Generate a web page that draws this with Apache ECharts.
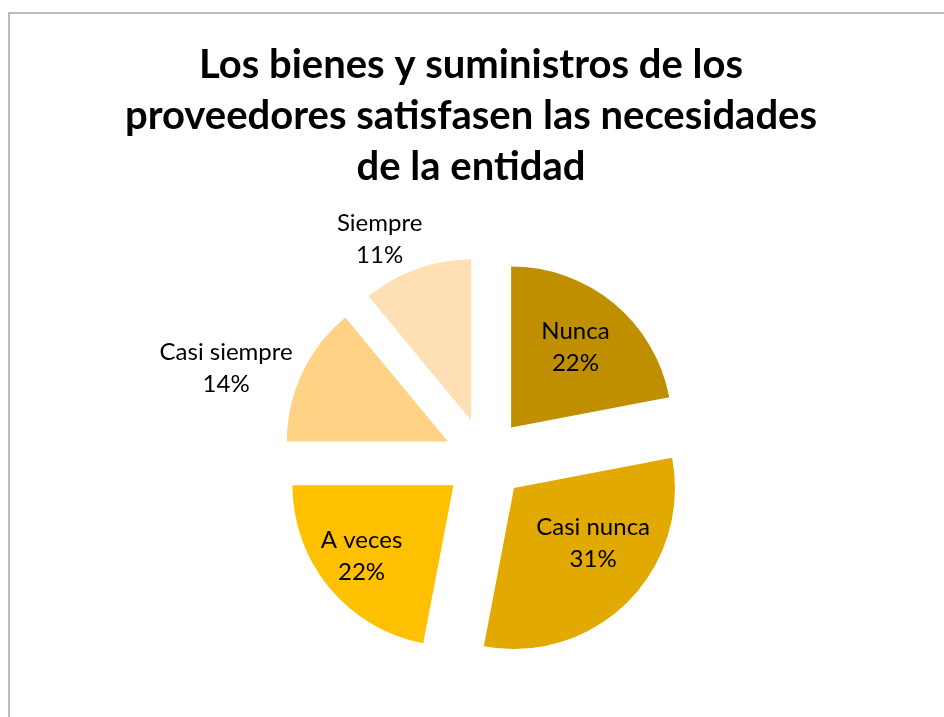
<!DOCTYPE html>
<html>
<head>
<meta charset="utf-8">
<script src="https://cdn.jsdelivr.net/npm/echarts@6/dist/echarts.min.js"></script>
<style>
  html, body { margin: 0; padding: 0; background: #fff; }
  #chart { width: 944px; height: 717px; }
</style>
</head>
<body>
<div id="chart"></div>
<script>
const TITLE = "Los bienes y suministros de los\nproveedores satisfasen las necesidades\nde la entidad";
const categories = ["Nunca", "Casi nunca", "A veces", "Casi siempre", "Siempre"];
const percents = [22, 31, 22, 14, 11];
const colors = ["#bf8f00", "#e2aa00", "#ffc000", "#ffd285", "#ffe0b4"];

// label placement: distance as share of radius, turn from slice bisector (deg)
const labelDist = [0.64, 0.60, 0.72, 1.45, 1.26];
const labelTurn = [-1, -10, 2, -7, -7];

const CENTER = [485, 459];
const RADIUS = 161;
const EXPLODE = 41;
const FONT = "Lato";

document.addEventListener("DOMContentLoaded", () => {
  const chart = echarts.init(document.getElementById("chart"));
  const total = percents.reduce((a, b) => a + b, 0);
  const mids = [];
  let acc = 0;
  percents.forEach(v => {
    mids.push((acc + v / 2) / total * 360);
    acc += v;
  });

  // the pie's own labels ignore labelLayout here, so labels go in as graphic text
  function labelPos(i) {
    const m = mids[i] * Math.PI / 180;
    const cx = CENTER[0] + Math.sin(m) * EXPLODE;
    const cy = CENTER[1] - Math.cos(m) * EXPLODE;
    const a = (mids[i] + labelTurn[i]) * Math.PI / 180;
    const r = RADIUS * labelDist[i];
    return [cx + Math.sin(a) * r, cy - Math.cos(a) * r];
  }

  const labels = categories.map((name, i) => {
    const [x, y] = labelPos(i);
    return {
      type: "text",
      x, y,
      silent: true,
      z: 10,
      style: {
        text: name + "\n" + percents[i] + "%",
        font: "24px " + FONT,
        lineHeight: 32,
        fill: "#000",
        align: "center",
        verticalAlign: "middle",
      },
    };
  });

  chart.setOption({
    animation: false,
    title: {
      text: TITLE,
      left: 466,
      top: 35,
      textAlign: "center",
      textStyle: { fontFamily: FONT, fontWeight: "bold", fontSize: 40, lineHeight: 51, color: "#000" },
    },
    graphic: [{
      type: "rect",
      shape: { x: 9, y: 13, width: 1000, height: 800 },
      style: { fill: "none", stroke: "#a6a6a6", lineWidth: 1.5 },
      silent: true,
    }, ...labels],
    series: [{
      type: "pie",
      center: CENTER,
      radius: RADIUS,
      startAngle: 90,
      clockwise: true,
      selectedMode: "multiple",
      selectedOffset: EXPLODE,
      emphasis: { disabled: true },
      label: { show: false },
      labelLine: { show: false },
      data: categories.map((name, i) => ({
        name,
        value: percents[i],
        selected: true,
        itemStyle: { color: colors[i] },
        select: { itemStyle: { color: colors[i] } },
      })),
    }],
  });
});
</script>
</body>
</html>
